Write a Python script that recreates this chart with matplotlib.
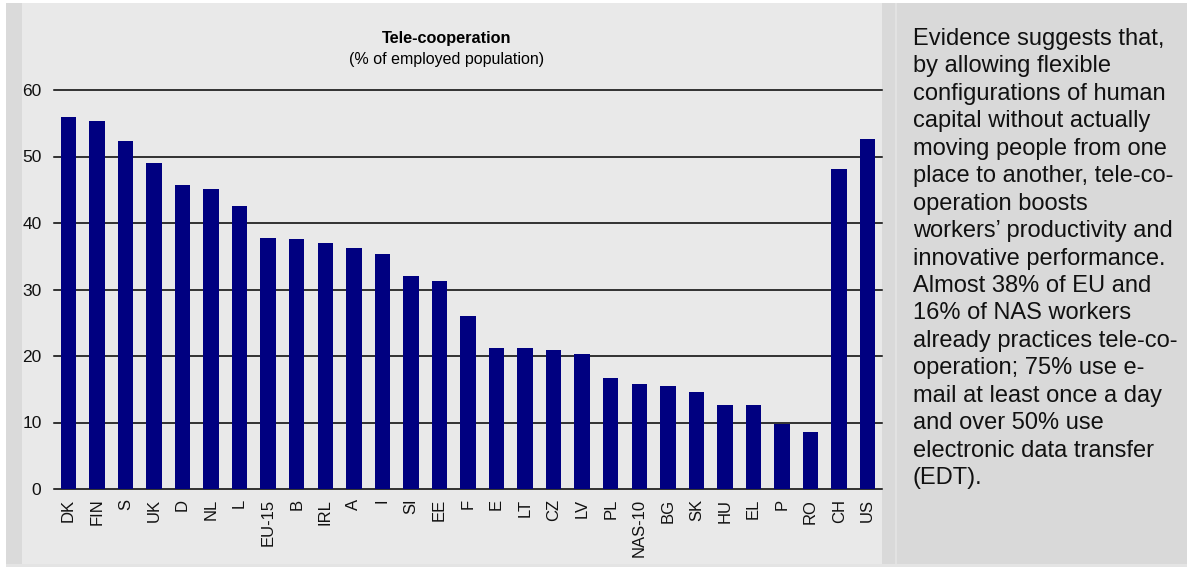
import matplotlib.pyplot as plt
from matplotlib.patches import Rectangle

plt.rcParams['font.family'] = ['Liberation Sans', 'DejaVu Sans']

countries = ['DK', 'FIN', 'S', 'UK', 'D', 'NL', 'L', 'EU-15', 'B', 'IRL', 'A', 'I',
             'SI', 'EE', 'F', 'E', 'LT', 'CZ', 'LV', 'PL', 'NAS-10', 'BG', 'SK',
             'HU', 'EL', 'P', 'RO', 'CH', 'US']
values = [55.9, 55.3, 52.3, 49.0, 45.7, 45.1, 42.5, 37.7, 37.6, 37.0, 36.2, 35.3,
          32.0, 31.3, 26.0, 21.2, 21.2, 20.9, 20.3, 16.7, 15.8, 15.5, 14.6,
          12.7, 12.7, 9.7, 8.5, 48.1, 52.6]
yticks = [0, 10, 20, 30, 40, 50, 60]

side_text = ("Evidence suggests that,\n"
             "by allowing flexible\n"
             "configurations of human\n"
             "capital without actually\n"
             "moving people from one\n"
             "place to another, tele-co-\n"
             "operation boosts\n"
             "workers\u2019 productivity and\n"
             "innovative performance.\n"
             "Almost 38% of EU and\n"
             "16% of NAS workers\n"
             "already practices tele-co-\n"
             "operation; 75% use e-\n"
             "mail at least once a day\n"
             "and over 50% use\n"
             "electronic data transfer\n"
             "(EDT).")

W, H = 1187, 567
fig = plt.figure(figsize=(W / 100, H / 100), dpi=100, facecolor='white')


def box(x0, y0, x1, y1, color):
    # pixel box, y measured from the top edge
    fig.patches.append(Rectangle((x0 / W, 1 - y1 / H), (x1 - x0) / W, (y1 - y0) / H,
                                 transform=fig.transFigure, facecolor=color,
                                 edgecolor='none', zorder=-5))


# panel backgrounds
box(6, 3, 22, 564, '#dadada')
box(22, 3, 882, 564, '#e9e9e9')
box(882, 3, 1187, 564, '#d9d9d9')
box(895, 3, 897, 564, '#e2e2e2')
box(6, 564, 1187, 567, '#e4e4e4')

ax = fig.add_axes([54 / W, (H - 489) / H, (882 - 54) / W, (489 - 90) / H])
ax.set_facecolor('none')

x = list(range(len(countries)))
ax.bar(x, values, width=0.54, color='#000080', zorder=3)
for t in yticks:
    ax.axhline(t, color='black', linewidth=1.1, zorder=2, clip_on=False)

ax.set_xlim(-0.5, len(countries) - 0.5)
ax.set_ylim(0, 60)
ax.set_yticks(yticks)
ax.set_xticks(x)
ax.set_xticklabels(countries, rotation=90, fontsize=12)
ax.tick_params(axis='y', length=0, pad=9, labelsize=12.5, labelcolor='#111111')
ax.tick_params(axis='x', length=0, pad=7, labelcolor='#111111')
for s in ax.spines.values():
    s.set_visible(False)

fig.text(447 / W, 1 - 43 / H, 'Tele-cooperation', ha='center', va='baseline',
         fontsize=11.7, fontweight='bold')
fig.text(447 / W, 1 - 64 / H, '(% of employed population)', ha='center',
         va='baseline', fontsize=11.5)

fig.text(913 / W, 1 - 28 / H, side_text, ha='left', va='top', fontsize=17,
         linespacing=1.32, color='#111111')

fig.savefig('out.png', dpi=100, facecolor='white')
